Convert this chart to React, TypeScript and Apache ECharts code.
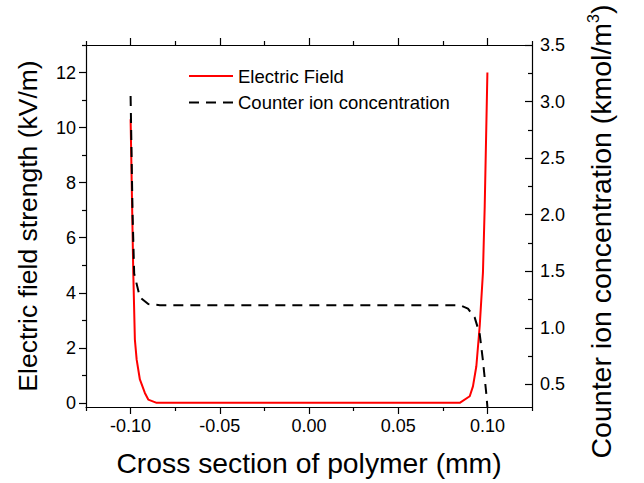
import React, { useEffect, useRef } from "react";
import * as echarts from "echarts";

// Electric field (kV/m) vs position (mm)
const fieldX = [-0.1, -0.0985, -0.0976, -0.0966, -0.0948, -0.092, -0.0901, -0.0854, -0.06, -0.03, 0, 0.03, 0.06, 0.0845, 0.0901, 0.0919, 0.0938, 0.0957, 0.0975, 0.0985, 0.1];
const fieldY = [10.3, 4.73, 2.3, 1.57, 0.85, 0.36, 0.12, 0, 0, 0, 0, 0, 0, 0, 0.24, 0.6, 1.33, 2.8, 4.73, 7.15, 12.0];

// Counter ion concentration (kmol/m3) vs position (mm)
const ionX = [-0.1, -0.0989, -0.098, -0.0948, -0.0901, -0.0836, -0.06, -0.03, 0, 0.03, 0.06, 0.0845, 0.0891, 0.0929, 0.0957, 0.0975, 0.0994, 0.1];
const ionY = [3.05, 2.01, 1.48, 1.27, 1.21, 1.2, 1.2, 1.2, 1.2, 1.2, 1.2, 1.2, 1.17, 1.09, 0.944, 0.71, 0.415, 0.3];

// Tick positions
const xMajor = [-0.1, -0.05, 0, 0.05, 0.1];
const xMinor = [-0.125, -0.075, -0.025, 0.025, 0.075, 0.125];
const yLeftMajor = [0, 2, 4, 6, 8, 10, 12];
const yLeftMinor = [1, 3, 5, 7, 9, 11, 13];
const yRightMajor = [0.5, 1, 1.5, 2, 2.5, 3, 3.5];
const yRightMinor = [0.75, 1.25, 1.75, 2.25, 2.75, 3.25];

const seriesNames = ["Electric Field", "Counter ion concentration"];

const FONT = "'Liberation Sans', Arial, sans-serif";

export default function App() {
  const ref = useRef<HTMLDivElement>(null);
  useEffect(() => {
    if (!ref.current) return;
    const chart = echarts.init(ref.current, undefined, { renderer: "svg" });
    const axisLine = { show: true, onZero: false, lineStyle: { color: "#000", width: 1.2 } };
    const noLine = { show: false, onZero: false };
    const labelStyle = { color: "#000", fontSize: 18, fontFamily: FONT };
    const X0 = -0.125, X1 = 0.125, YL0 = -0.15, YL1 = 13, YR0 = 0.3, YR1 = 3.5;
    const tickBase = (vals: number[], len: number, inside: boolean) => ({
      show: true,
      inside,
      length: len,
      customValues: vals,
      lineStyle: { color: "#000", width: 1.2 },
    });
    const option: any = {
      animation: false,
      backgroundColor: "#fff",
      grid: { left: 86, top: 45, right: 112, bottom: 76, containLabel: false, outerBoundsMode: "none" },
      legend: {
        orient: "vertical",
        left: 188,
        top: 66.5,
        padding: 0,
        itemWidth: 44,
        itemHeight: 14,
        itemGap: 7.5,
        itemStyle: { opacity: 0 },
        data: seriesNames,
        textStyle: { color: "#000", fontSize: 18.5, fontFamily: FONT },
      },
      xAxis: [
        {
          type: "value", position: "bottom", min: X0, max: X1,
          axisLine, splitLine: { show: false },
          axisTick: tickBase(xMajor, 7, false),
          axisLabel: { ...labelStyle, margin: 10, customValues: xMajor, formatter: (v: number) => v.toFixed(2) },
          name: "Cross section of polymer (mm)", nameLocation: "middle", nameGap: 42,
          nameTextStyle: { color: "#000", fontSize: 28.3, fontFamily: FONT },
        },
        {
          type: "value", position: "bottom", min: X0, max: X1,
          axisLine: noLine, splitLine: { show: false },
          axisTick: tickBase(xMinor, 4, false), axisLabel: { show: false },
        },
        {
          type: "value", position: "top", min: X0, max: X1,
          axisLine, splitLine: { show: false },
          axisTick: tickBase(xMajor, 7, false), axisLabel: { show: false },
        },
        {
          type: "value", position: "top", min: X0, max: X1,
          axisLine: noLine, splitLine: { show: false },
          axisTick: tickBase(xMinor, 4, false), axisLabel: { show: false },
        },
      ],
      yAxis: [
        {
          type: "value", position: "left", min: YL0, max: YL1,
          axisLine, splitLine: { show: false },
          axisTick: tickBase(yLeftMajor, 7, false),
          axisLabel: { ...labelStyle, margin: 10, customValues: yLeftMajor, formatter: (v: number) => String(v) },
          name: "Electric field strength (kV/m)", nameLocation: "middle", nameGap: 45, nameRotate: 90,
          nameTextStyle: { color: "#000", fontSize: 26.5, fontFamily: FONT },
        },
        {
          type: "value", position: "left", min: YL0, max: YL1,
          axisLine: noLine, splitLine: { show: false },
          axisTick: tickBase(yLeftMinor, 4, false), axisLabel: { show: false },
        },
        {
          type: "value", position: "right", min: YR0, max: YR1,
          axisLine, splitLine: { show: false },
          axisTick: tickBase(yRightMajor, 7, true),
          axisLabel: { ...labelStyle, margin: 8, customValues: yRightMajor, formatter: (v: number) => v.toFixed(1) },
          name: "Counter ion concentration (kmol/m{sup|3})", nameLocation: "middle", nameGap: 53, nameRotate: 90,
          nameTextStyle: {
            color: "#000", fontSize: 28.5, fontFamily: FONT, lineHeight: 32, padding: [0, 11, 0, 0],
            rich: { sup: { color: "#000", fontSize: 16, fontFamily: FONT, lineHeight: 32, verticalAlign: "top" } },
          },
        },
        {
          type: "value", position: "right", min: YR0, max: YR1,
          axisLine: noLine, splitLine: { show: false },
          axisTick: tickBase(yRightMinor, 4, true), axisLabel: { show: false },
        },
      ],
      series: [
        {
          name: seriesNames[0], type: "line", xAxisIndex: 0, yAxisIndex: 0,
          symbol: "none", smooth: false,
          lineStyle: { color: "#ff0000", width: 2 },
          itemStyle: { color: "#ff0000" },
          data: fieldX.map((x, i) => [x, fieldY[i]]),
        },
        {
          name: seriesNames[1], type: "line", xAxisIndex: 0, yAxisIndex: 2,
          symbol: "none", smooth: false,
          lineStyle: { color: "#000", width: 2, type: [10, 7] },
          itemStyle: { color: "#000" },
          data: ionX.map((x, i) => [x, ionY[i]]),
        },
      ],
    };
    chart.setOption(option);
    return () => chart.dispose();
  }, []);
  return (
    <div
      ref={ref}
      style={{ position: "fixed", left: 0, top: 0, width: 644, height: 483, background: "#fff" }}
    />
  );
}
